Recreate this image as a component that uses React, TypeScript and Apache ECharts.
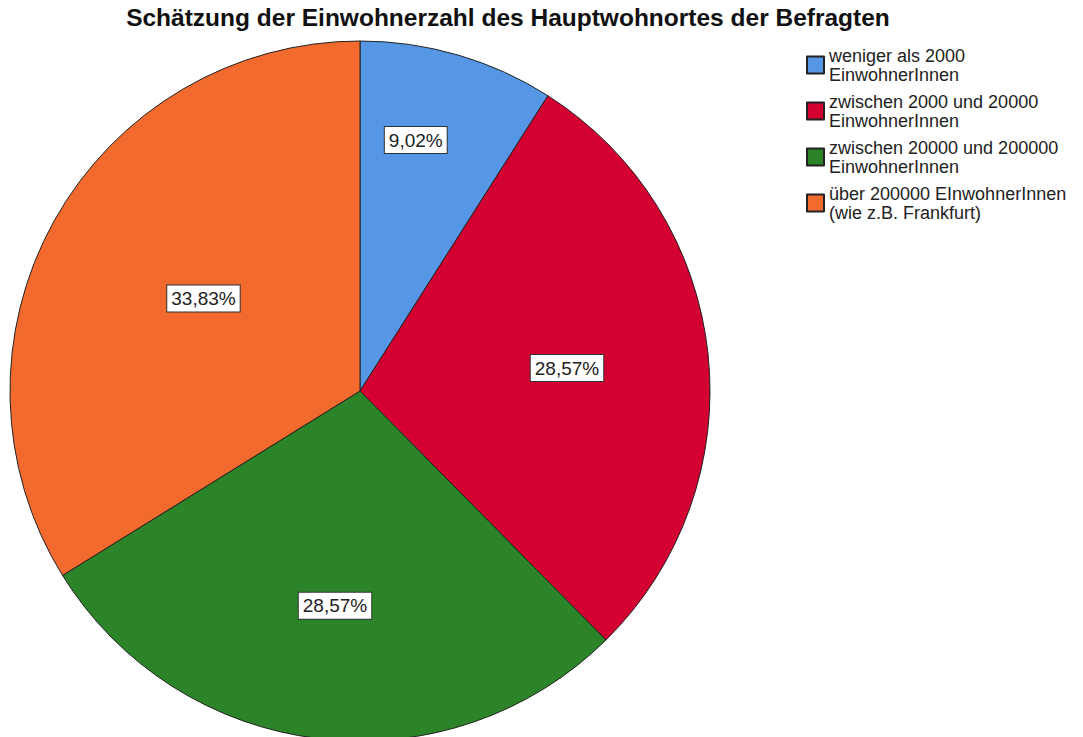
import React, { useEffect, useRef } from "react";
import * as echarts from "echarts";

const categories = [
  "weniger als 2000\nEinwohnerInnen",
  "zwischen 2000 und 20000\nEinwohnerInnen",
  "zwischen 20000 und 200000\nEinwohnerInnen",
  "über 200000 EInwohnerInnen\n(wie z.B. Frankfurt)",
];
const values = [9.02, 28.57, 28.57, 33.83];
const colors = ["#5596E5", "#D30031", "#2B8428", "#F26A2D"];
const labelOffsets: [number, number][] = [
  [6, -80],
  [30, -4],
  [-4, 38],
  [-1, -6],
];

const FONT = "'Liberation Sans', Arial, sans-serif";

export default function App() {
  const ref = useRef<HTMLDivElement>(null);
  useEffect(() => {
    document.body.style.margin = "0";
    if (!ref.current) return;
    const chart = echarts.init(ref.current, null, { renderer: "svg" });
    chart.setOption({
      animation: false,
      backgroundColor: "#ffffff",
      title: {
        text: "Schätzung der Einwohnerzahl des Hauptwohnortes der Befragten",
        left: 508,
        top: 5,
        padding: 0,
        textAlign: "center",
        textStyle: {
          fontFamily: FONT,
          fontSize: 24.5,
          fontWeight: "bold",
          color: "#111",
        },
      },
      legend: {
        orient: "vertical",
        left: 806,
        top: 46,
        padding: 0,
        itemWidth: 17,
        itemHeight: 17,
        itemGap: 8,
        icon: "rect",
        data: categories,
        textStyle: {
          fontFamily: FONT,
          fontSize: 18,
          lineHeight: 19,
          color: "#222",
        },
      },
      series: [
        {
          type: "pie",
          center: [360, 391],
          radius: 350,
          startAngle: 90,
          clockwise: true,
          avoidLabelOverlap: false,
          itemStyle: { borderColor: "#222", borderWidth: 1 },
          label: {
            show: true,
            position: "inside",
            fontFamily: FONT,
            fontSize: 19,
            color: "#222",
            backgroundColor: "#ffffff",
            borderColor: "#333",
            borderWidth: 1,
            padding: [4, 4, 3, 4],
            formatter: (p: any) => p.value.toFixed(2).replace(".", ",") + "%",
          },
          labelLine: { show: false },
          emphasis: { disabled: true },
          data: categories.map((name, i) => ({
            name,
            value: values[i],
            itemStyle: { color: colors[i] },
            label: { offset: labelOffsets[i] },
          })),
        },
      ],
    });
    return () => chart.dispose();
  }, []);
  return <div ref={ref} style={{ width: 1083, height: 737 }} />;
}
